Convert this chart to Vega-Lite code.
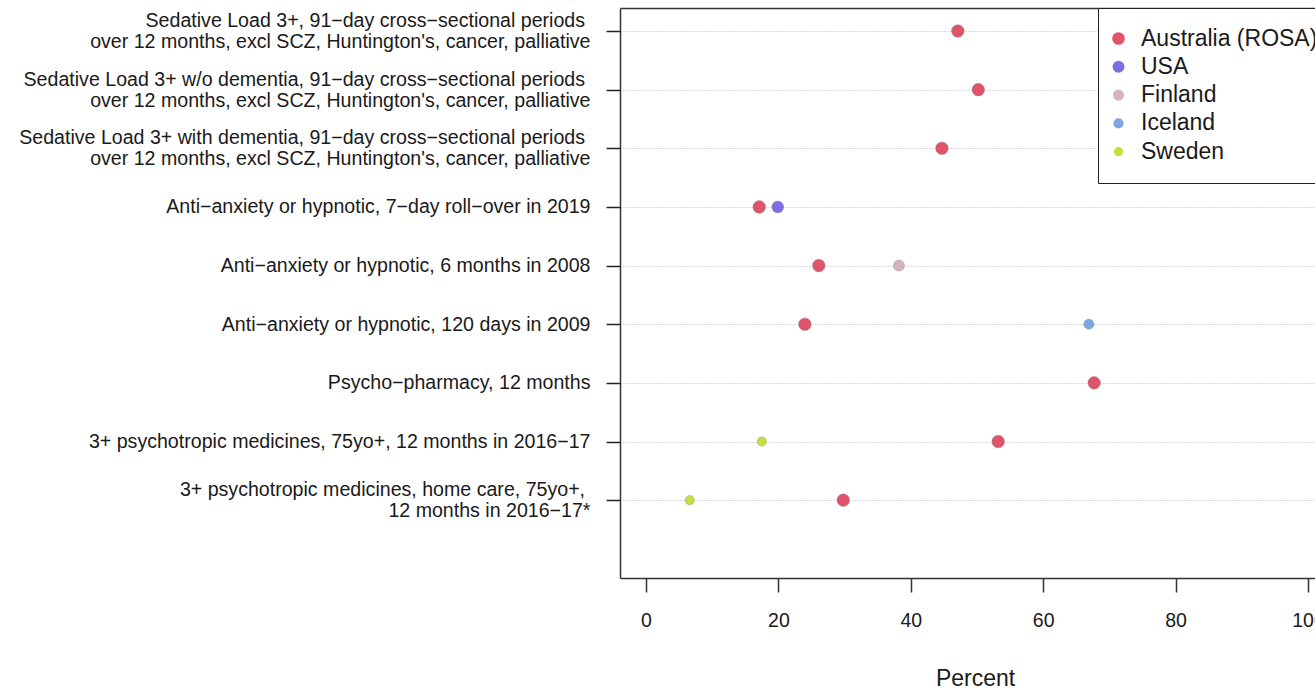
{
  "$schema": "https://vega.github.io/schema/vega-lite/v6.json",
  "width": 695,
  "height": 570,
  "autosize": {"type": "none"},
  "padding": {"left": 620, "top": 8, "right": 0, "bottom": 111},
  "background": "white",
  "config": {"font": "Liberation Sans", "view": {"stroke": null}},
  "data": {
    "values": [
      {"measure": "Sedative Load 3+, 91\u2212day cross\u2212sectional periods\u00a0\u200b|over 12 months, excl SCZ, Huntington's, cancer, palliative", "country": "Australia (ROSA)", "value": 47.1},
      {"measure": "Sedative Load 3+ w/o dementia, 91\u2212day cross\u2212sectional periods\u00a0\u200b|over 12 months, excl SCZ, Huntington's, cancer, palliative", "country": "Australia (ROSA)", "value": 50.2},
      {"measure": "Sedative Load 3+ with dementia, 91\u2212day cross\u2212sectional periods\u00a0\u200b|over 12 months, excl SCZ, Huntington's, cancer, palliative", "country": "Australia (ROSA)", "value": 44.7},
      {"measure": "Anti\u2212anxiety or hypnotic, 7\u2212day roll\u2212over in 2019", "country": "Australia (ROSA)", "value": 17.1},
      {"measure": "Anti\u2212anxiety or hypnotic, 7\u2212day roll\u2212over in 2019", "country": "USA", "value": 19.9},
      {"measure": "Anti\u2212anxiety or hypnotic, 6 months in 2008", "country": "Australia (ROSA)", "value": 26.1},
      {"measure": "Anti\u2212anxiety or hypnotic, 6 months in 2008", "country": "Finland", "value": 38.2},
      {"measure": "Anti\u2212anxiety or hypnotic, 120 days in 2009", "country": "Australia (ROSA)", "value": 24.0},
      {"measure": "Anti\u2212anxiety or hypnotic, 120 days in 2009", "country": "Iceland", "value": 66.9},
      {"measure": "Psycho\u2212pharmacy, 12 months", "country": "Australia (ROSA)", "value": 67.7},
      {"measure": "3+ psychotropic medicines, 75yo+, 12 months in 2016\u221217", "country": "Sweden", "value": 17.5},
      {"measure": "3+ psychotropic medicines, 75yo+, 12 months in 2016\u221217", "country": "Australia (ROSA)", "value": 53.2},
      {"measure": "3+ psychotropic medicines, home care, 75yo+,\u00a0\u200b|12 months in 2016\u221217*", "country": "Sweden", "value": 6.6},
      {"measure": "3+ psychotropic medicines, home care, 75yo+,\u00a0\u200b|12 months in 2016\u221217*", "country": "Australia (ROSA)", "value": 29.8}
    ]
  },
  "layer": [
    {
      "mark": {"type": "circle", "opacity": 1, "stroke": "#888", "strokeWidth": 0.6, "strokeOpacity": 0.7},
      "encoding": {
        "x": {
          "field": "value", "type": "quantitative",
          "scale": {"domain": [-3.93, 101.06], "nice": false, "zero": false},
          "axis": {
            "orient": "bottom", "values": [0, 20, 40, 60, 80, 100], "title": "Percent", "grid": false,
            "domainColor": "#333", "domainWidth": 1.5, "tickColor": "#333", "tickWidth": 1.5, "tickSize": 14,
            "labelFontSize": 19.5, "labelColor": "#1a1a1a", "labelPadding": 19, "labelFlush": false,
            "titleFontSize": 23, "titleFontWeight": "normal", "titleColor": "#1a1a1a", "titlePadding": 38, "titleX": 355
          }
        },
        "y": {
          "field": "measure", "type": "nominal",
          "scale": {
            "type": "point", "padding": 0.36, "align": 0.545,
            "domain": [
              "Sedative Load 3+, 91\u2212day cross\u2212sectional periods\u00a0\u200b|over 12 months, excl SCZ, Huntington's, cancer, palliative",
              "Sedative Load 3+ w/o dementia, 91\u2212day cross\u2212sectional periods\u00a0\u200b|over 12 months, excl SCZ, Huntington's, cancer, palliative",
              "Sedative Load 3+ with dementia, 91\u2212day cross\u2212sectional periods\u00a0\u200b|over 12 months, excl SCZ, Huntington's, cancer, palliative",
              "Anti\u2212anxiety or hypnotic, 7\u2212day roll\u2212over in 2019",
              "Anti\u2212anxiety or hypnotic, 6 months in 2008",
              "Anti\u2212anxiety or hypnotic, 120 days in 2009",
              "Psycho\u2212pharmacy, 12 months",
              "3+ psychotropic medicines, 75yo+, 12 months in 2016\u221217",
              "3+ psychotropic medicines, home care, 75yo+,\u00a0\u200b|12 months in 2016\u221217*",
              "~"
            ]
          },
          "axis": {
            "values": [
              "Sedative Load 3+, 91\u2212day cross\u2212sectional periods\u00a0\u200b|over 12 months, excl SCZ, Huntington's, cancer, palliative",
              "Sedative Load 3+ w/o dementia, 91\u2212day cross\u2212sectional periods\u00a0\u200b|over 12 months, excl SCZ, Huntington's, cancer, palliative",
              "Sedative Load 3+ with dementia, 91\u2212day cross\u2212sectional periods\u00a0\u200b|over 12 months, excl SCZ, Huntington's, cancer, palliative",
              "Anti\u2212anxiety or hypnotic, 7\u2212day roll\u2212over in 2019",
              "Anti\u2212anxiety or hypnotic, 6 months in 2008",
              "Anti\u2212anxiety or hypnotic, 120 days in 2009",
              "Psycho\u2212pharmacy, 12 months",
              "3+ psychotropic medicines, 75yo+, 12 months in 2016\u221217",
              "3+ psychotropic medicines, home care, 75yo+,\u00a0\u200b|12 months in 2016\u221217*"
            ],
            "title": null,
            "labelExpr": "split(datum.label, '|')",
            "labelOffset": {"condition": {"test": "indexof(datum.label, '|') >= 0", "value": -10.5}, "value": 0},
            "labelFontSize": 19.6, "labelLineHeight": 21, "labelLimit": 700, "labelColor": "#1a1a1a", "labelPadding": 16,
            "tickSize": 14, "tickColor": "#222", "tickWidth": 1.5,
            "domainColor": "#333", "domainWidth": 1.5,
            "grid": true, "gridColor": "#b5b5b5", "gridDash": [1, 2], "gridWidth": 1
          }
        },
        "color": {
          "field": "country", "type": "nominal",
          "scale": {
            "domain": ["Australia (ROSA)", "USA", "Finland", "Iceland", "Sweden"],
            "range": ["#DF536B", "#7B6EE3", "#D6B3C1", "#7EA6DE", "#C4E03C"]
          },
          "legend": {
            "title": null, "orient": "none", "legendX": 478, "legendY": 0,
            "strokeColor": "#222", "fillColor": "white", "padding": 19,
            "labelFontSize": 23, "labelColor": "#1a1a1a", "labelOffset": 11, "rowPadding": 4.3,
            "symbolType": "circle", "symbolOffset": -10, "symbolStrokeWidth": 0, "labelLimit": 400
          }
        },
        "size": {
          "field": "country", "type": "nominal",
          "scale": {
            "domain": ["Australia (ROSA)", "USA", "Finland", "Iceland", "Sweden"],
            "range": [160, 85, 100, 90, 95]
          }
        }
      }
    },
    {
      "mark": {"type": "circle", "opacity": 0},
      "encoding": {
        "x": {
          "field": "value", "type": "quantitative",
          "scale": {"domain": [-3.93, 101.06], "nice": false, "zero": false},
          "axis": {"orient": "top", "labels": false, "ticks": false, "title": null, "grid": false, "domainColor": "#333", "domainWidth": 1.5}
        }
      }
    }
  ],
  "resolve": {"axis": {"x": "independent"}}
}
